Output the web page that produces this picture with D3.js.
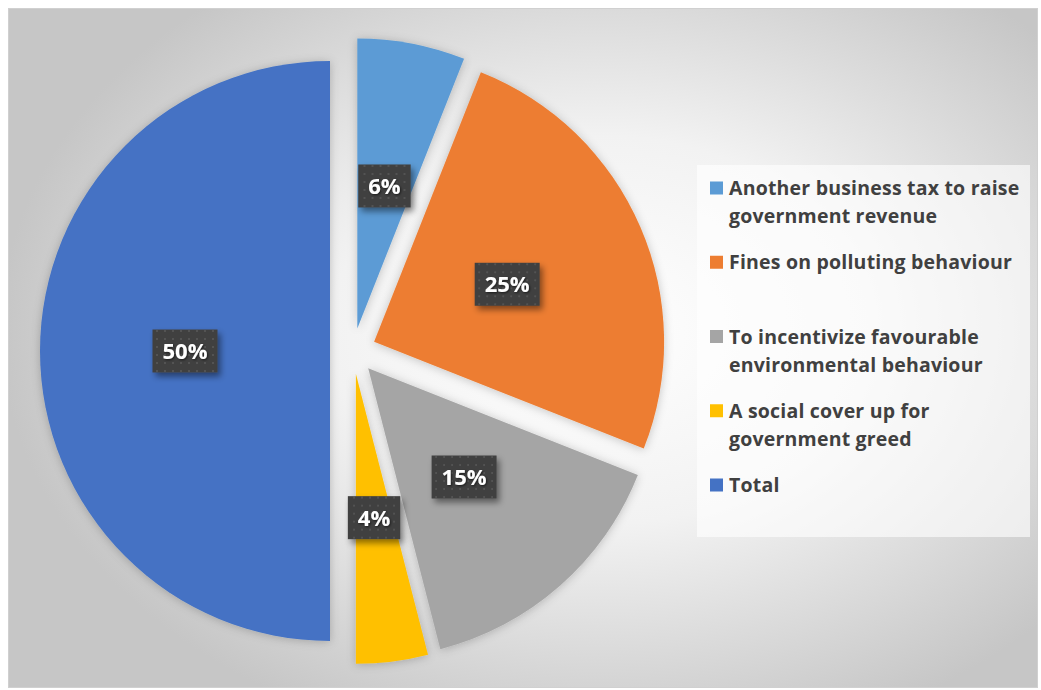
<!DOCTYPE html>
<html>
<head>
<meta charset="utf-8">
<script src="https://cdn.jsdelivr.net/npm/d3@7/dist/d3.min.js"></script>
<style>
  html, body { margin: 0; padding: 0; background: #ffffff; }
  svg { display: block; }
  text { font-family: "Open Sans", Lato, sans-serif; }
</style>
</head>
<body>
<svg id="chart" width="1041" height="690"></svg>
<script>
// Survey answers and their share of responses (%)
const categories = [
  "Another business tax to raise government revenue",
  "Fines on polluting behaviour",
  "To incentivize favourable environmental behaviour",
  "A social cover up for government greed",
  "Total"
];
const legendLines = [
  ["Another business tax to raise", "government revenue"],
  ["Fines on polluting behaviour"],
  ["To incentivize favourable", "environmental behaviour"],
  ["A social cover up for", "government greed"],
  ["Total"]
];
const values = [6, 25, 15, 4, 50];
const colors = ["#5B9BD5", "#ED7D31", "#A5A5A5", "#FFC000", "#4472C4"];

const W = 1041, H = 690;
const svg = d3.select("#chart");
const defs = svg.append("defs");

// chart-area background: soft radial fade from white to grey
const bg = defs.append("radialGradient")
  .attr("id", "bgGrad")
  .attr("gradientUnits", "userSpaceOnUse")
  .attr("cx", 600).attr("cy", 330).attr("r", 600)
  .attr("gradientTransform", "translate(600,330) scale(1,0.72) translate(-600,-330)");
bg.append("stop").attr("offset", "0%").attr("stop-color", "#ffffff");
bg.append("stop").attr("offset", "45%").attr("stop-color", "#f2f2f2");
bg.append("stop").attr("offset", "100%").attr("stop-color", "#c6c6c6");

// soft halo shadow behind slices
const sliceShadow = defs.append("filter").attr("id", "sliceShadow")
  .attr("x", "-20%").attr("y", "-20%").attr("width", "140%").attr("height", "140%");
sliceShadow.append("feDropShadow")
  .attr("dx", 0).attr("dy", 1).attr("stdDeviation", 5)
  .attr("flood-color", "#000").attr("flood-opacity", 0.22);

// shadow under data-label boxes
const boxShadow = defs.append("filter").attr("id", "boxShadow")
  .attr("x", "-30%").attr("y", "-30%").attr("width", "170%").attr("height", "170%");
boxShadow.append("feDropShadow")
  .attr("dx", 3).attr("dy", 4).attr("stdDeviation", 3)
  .attr("flood-color", "#000").attr("flood-opacity", 0.45);

// slight shadow on label text
const textShadow = defs.append("filter").attr("id", "textShadow")
  .attr("x", "-20%").attr("y", "-20%").attr("width", "140%").attr("height", "140%");
textShadow.append("feDropShadow")
  .attr("dx", 1).attr("dy", 1).attr("stdDeviation", 0.8)
  .attr("flood-color", "#000").attr("flood-opacity", 0.6);

// dotted dark fill for label boxes
const pat = defs.append("pattern").attr("id", "dots")
  .attr("patternUnits", "userSpaceOnUse").attr("width", 8).attr("height", 8);
pat.append("rect").attr("width", 8).attr("height", 8).attr("fill", "#3f3f3f");
pat.append("rect").attr("x", 3).attr("y", 3).attr("width", 2).attr("height", 2).attr("fill", "#525252");

// chart area
svg.append("rect")
  .attr("x", 8.5).attr("y", 8.5).attr("width", 1029).attr("height", 679)
  .attr("fill", "url(#bgGrad)")
  .attr("stroke", "#d0d0d0").attr("stroke-width", 1);

// pie
const cx = 353, cy = 351, R = 290, explode = 23;
const pie = d3.pie().sort(null).value(d => d);
const arcs = pie(values);
const arc = d3.arc().innerRadius(0).outerRadius(R);

const offset = d => {
  const mid = (d.startAngle + d.endAngle) / 2;
  return [explode * Math.sin(mid), -explode * Math.cos(mid)];
};

const pieG = svg.append("g").attr("transform", `translate(${cx},${cy})`);

pieG.selectAll("path.slice")
  .data(arcs)
  .join("path")
  .attr("class", "slice")
  .attr("transform", d => `translate(${offset(d)})`)
  .attr("d", arc)
  .attr("fill", (d, i) => colors[i])
  .attr("filter", "url(#sliceShadow)");

// data labels
const fmt = v => `${v}%`;
const labels = pieG.selectAll("g.label")
  .data(arcs)
  .join("g")
  .attr("class", "label")
  .attr("transform", d => {
    const [ox, oy] = offset(d);
    const [lx, ly] = arc.centroid(d);
    return `translate(${lx + ox},${ly + oy})`;
  });

labels.append("rect").attr("class", "box");
labels.append("text")
  .attr("text-anchor", "middle")
  .attr("dy", "0.36em")
  .attr("fill", "#ffffff")
  .attr("font-size", 22)
  .attr("font-weight", "bold")
  .attr("filter", "url(#textShadow)")
  .text(d => fmt(d.data));

labels.each(function () {
  const g = d3.select(this);
  const tw = g.select("text").node().getComputedTextLength();
  const bw = tw + 20, bh = 43;
  g.select("rect.box")
    .attr("x", -bw / 2).attr("y", -bh / 2)
    .attr("width", bw).attr("height", bh)
    .attr("fill", "url(#dots)")
    .attr("filter", "url(#boxShadow)");
});

// legend
const legendBox = { x: 697, y: 165, w: 333, h: 372 };
svg.append("rect")
  .attr("x", legendBox.x).attr("y", legendBox.y)
  .attr("width", legendBox.w).attr("height", legendBox.h)
  .attr("fill", "#ffffff").attr("fill-opacity", 0.62);

const ly = d3.scalePoint().domain(categories).range([188, 485]);
const lineH = 28;

const leg = svg.append("g").selectAll("g")
  .data(categories)
  .join("g")
  .attr("transform", d => `translate(0,${ly(d)})`);

leg.append("rect")
  .attr("x", 710).attr("y", -6.5)
  .attr("width", 13).attr("height", 13)
  .attr("fill", (d, i) => colors[i]);

leg.append("text")
  .attr("x", 729)
  .attr("fill", "#404040")
  .attr("font-size", 19.5)
  .attr("letter-spacing", 0.2)
  .attr("font-weight", "bold")
  .selectAll("tspan")
  .data((d, i) => legendLines[i])
  .join("tspan")
  .attr("x", 729)
  .attr("y", (t, j) => j * lineH)
  .attr("dy", "0.36em")
  .text(t => t);
</script>
</body>
</html>
